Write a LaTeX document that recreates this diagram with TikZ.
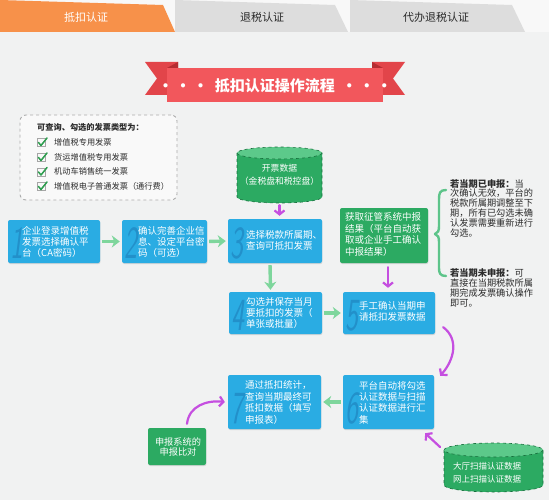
\documentclass[tikz,border=0pt]{standalone}
\usepackage{fontspec}
\setmainfont{Noto Sans CJK SC}
\usetikzlibrary{arrows.meta,calc,shadows}
\definecolor{bg}{HTML}{F1F2F2}
\definecolor{taborange}{HTML}{F7914A}
\definecolor{tabgrey}{HTML}{DDDDDD}
\definecolor{tabtop}{HTML}{F8F8F8}
\definecolor{redmain}{HTML}{F2575C}
\definecolor{redtail}{HTML}{E2454A}
\definecolor{redfold}{HTML}{B52C31}
\definecolor{boxblue}{HTML}{2AACE3}
\definecolor{numblue}{HTML}{2290CA}
\definecolor{boxgreen}{HTML}{2CAA62}
\definecolor{cyltop}{HTML}{5CC98A}
\definecolor{cylline}{HTML}{17703D}
\definecolor{arrowgreen}{HTML}{7ED69C}
\definecolor{purp}{HTML}{C54FE0}
\definecolor{bracegreen}{HTML}{5DC48A}
\definecolor{txtdark}{HTML}{2B2B2B}
\definecolor{checkgreen}{HTML}{2E9E4F}
\begin{document}
\begin{tikzpicture}[x=1pt,y=-1pt,
  bluebox/.style={fill=boxblue, rounded corners=2pt, inner sep=0pt,
    drop shadow={shadow xshift=0.4pt, shadow yshift=-1pt, opacity=0.25}},
  greenbox/.style={fill=boxgreen, rounded corners=2pt, inner sep=0pt,
    drop shadow={shadow xshift=0.4pt, shadow yshift=-1pt, opacity=0.25}},
  boxtxt/.style={text=white, font=\fontsize{9.5}{11.4}\selectfont, align=left, inner sep=0pt, anchor=west},
  ctrtxt/.style={text=white, font=\fontsize{9}{10.5}\selectfont, align=center, inner sep=0pt},
  numtxt/.style={text=numblue, font=\fontsize{46}{46}\selectfont\sffamily\itshape, inner sep=0pt, anchor=base west},
  garrow/.style={draw=arrowgreen, line width=3.4pt, -{Stealth[length=8pt,width=12pt,inset=2.5pt]}, shorten <=2pt, shorten >=2pt},
  parrow/.style={draw=purp, line width=2.2pt, -{Straight Barb[length=4pt,width=10pt]}, line cap=round},
  legtxt/.style={text=txtdark, font=\fontsize{8.2}{8.2}\selectfont, anchor=west, inner sep=0pt},
  notetxt/.style={text=txtdark, font=\fontsize{9.2}{9.8}\selectfont, align=left, anchor=west, inner sep=0pt},
  cylshape/.style={fill=boxgreen, draw=cylline, dashed, line width=0.6pt},
  tabtxt/.style={font=\fontsize{11}{11}\selectfont, inner sep=0pt}
]
\useasboundingbox[fill=bg] (0,0) rectangle (549,500);

% ---- tabs
\fill[tabtop] (0,0) rectangle (549,32);
\fill[taborange] (0,0) -- (163,5) -- (175,32) -- (0,32) -- cycle;
\fill[tabgrey] (175,0) -- (335,5) -- (348,32) -- (175,32) -- cycle;
\fill[tabgrey] (350,0) -- (512,5) -- (525,32) -- (350,32) -- cycle;
\node[tabtxt, text=white] (tab1) at (86,17) {抵扣认证};
\node[tabtxt, text=txtdark] (tab2) at (262,17) {退税认证};
\node[tabtxt, text=txtdark] (tab3) at (436,17) {代办退税认证};

% ---- banner
\fill[redtail] (145,62) -- (178,62) -- (178,95) -- (145,95) -- (157,78.5) -- cycle;
\fill[redtail] (405,62) -- (372,62) -- (372,95) -- (405,95) -- (393,78.5) -- cycle;
\fill[redfold] (167,68) -- (178,62) -- (178,68) -- cycle;
\fill[redfold] (383,68) -- (372,62) -- (372,68) -- cycle;
\fill[redmain] (167,68) rectangle (383,102);
\node[text=white, font=\fontsize{15}{15}\selectfont\bfseries, inner sep=0pt] (title) at (275,85.5) {•\,•\,•\ \ 抵扣认证操作流程\ \ •\,•\,•};

% ---- legend
\node[draw=gray!65, dashed, line width=0.9pt, rounded corners=6pt, fill=white!55!bg,
      minimum width=157pt, minimum height=85pt, inner sep=0pt] (legend) at (98.5,157.5) {};
\node[legtxt, font=\fontsize{8.2}{8.2}\selectfont\bfseries] (legtitle) at (37,127) {可查询、勾选的发票类型为：};
\foreach \yy/\tt [count=\i] in {142/增值税专用发票, 157/货运增值税专用发票, 171.5/机动车销售统一发票, 186/增值税电子普通发票（通行费）}{
  \draw[gray!70, line width=0.6pt] (37,\yy-3.5) rectangle (45,\yy+4.5);
  \draw[checkgreen, line width=1.5pt, line cap=round, line join=round] (38.5,\yy+0.5) -- (41,\yy+3.5) -- (47,\yy-4);
  \node[legtxt] (leg\i) at (54,\yy) {\tt};
}

% ---- blue and green boxes
\node[bluebox, minimum width=92pt, minimum height=43pt] (b1) at (54,241.5) {};
\node[bluebox, minimum width=85pt, minimum height=43pt] (b2) at (164.5,241.5) {};
\node[bluebox, minimum width=94pt, minimum height=44pt] (b3) at (275,241) {};
\node[greenbox, minimum width=88pt, minimum height=55pt] (g1) at (384,235.5) {};
\node[bluebox, minimum width=93pt, minimum height=42pt] (b4) at (275.5,313) {};
\node[bluebox, minimum width=92pt, minimum height=42pt] (b5) at (389,313) {};
\node[bluebox, minimum width=91pt, minimum height=54pt] (b6) at (388.5,402) {};
\node[bluebox, minimum width=93pt, minimum height=54pt] (b7) at (274.5,402) {};
\node[greenbox, minimum width=58pt, minimum height=37pt] (g3) at (177,446.5) {};

% numbers
\node[numtxt] (n1) at ([shift={(2,-5)}]b1.south west) {\scalebox{0.6}[1]{1}};
\node[numtxt] (n2) at ([shift={(2,-5)}]b2.south west) {\scalebox{0.6}[1]{2}};
\node[numtxt] (n3) at ([shift={(2,-5)}]b3.south west) {\scalebox{0.6}[1]{3}};
\node[numtxt] (n4) at ([shift={(2,-4)}]b4.south west) {\scalebox{0.6}[1]{4}};
\node[numtxt] (n5) at ([shift={(2,-4)}]b5.south west) {\scalebox{0.6}[1]{5}};
\node[numtxt] (n6) at ([shift={(2,-6)}]b6.south west) {\scalebox{0.6}[1]{6}};
\node[numtxt] (n7) at ([shift={(2,-6)}]b7.south west) {\scalebox{0.6}[1]{7}};

% box texts
\node[boxtxt] (t1) at (22,242) {企业登录增值税\\发票选择确认平\\台（CA密码）};
\node[boxtxt] (t2) at (138,242) {确认完善企业信\\息、设定平台密\\码（可选）};
\node[boxtxt] (t3) at (246,240.5) {选择税款所属期、\\查询可抵扣发票};
\node[boxtxt] (tg1) at (345,234.5) {获取征管系统中报\\结果（平台自动获\\取或企业手工确认\\中报结果）};
\node[boxtxt] (t4) at (246,313) {勾选并保存当月\\要抵扣的发票（\\单张或批量）};
\node[boxtxt] (t5) at (359,311.5) {手工确认当期申\\请抵扣发票数据};
\node[boxtxt] (t6) at (359,402.5) {平台自动将勾选\\认证数据与扫描\\认证数据进行汇\\集};
\node[boxtxt] (t7) at (245,402.5) {通过抵扣统计，\\查询当期最终可\\抵扣数据（填写\\申报表）};
\node[ctrtxt, font=\fontsize{9.2}{10}\selectfont] (tg3) at (178,447) {申报系统的\\申报比对};

% ---- cylinders
\fill[boxgreen] (237,153) -- (237,197) arc[start angle=180, end angle=0, x radius=42.5, y radius=6] -- (322,153) -- cycle;
\draw[cylshape, fill=none] (237,153) -- (237,197) arc[start angle=180, end angle=0, x radius=42.5, y radius=6] -- (322,153);
\draw[cylshape, fill=cyltop] (279.5,153) ellipse[x radius=42.5, y radius=6];
\node[inner sep=0pt, minimum width=85pt, minimum height=56pt] (c1) at (279.5,175) {};
\node[ctrtxt, font=\fontsize{8.8}{13}\selectfont] (tc1) at (279.5,174.5) {开票数据\\（金税盘和税控盘）};

\fill[boxgreen] (444,450) -- (444,485) arc[start angle=180, end angle=0, x radius=49.5, y radius=7] -- (543,450) -- cycle;
\draw[cylshape, fill=none] (444,450) -- (444,485) arc[start angle=180, end angle=0, x radius=49.5, y radius=7] -- (543,450);
\draw[cylshape, fill=cyltop] (493.5,450) ellipse[x radius=49.5, y radius=7];
\node[inner sep=0pt, minimum width=99pt, minimum height=49pt] (c2) at (493.5,467.5) {};
\node[ctrtxt, font=\fontsize{8.5}{12.5}\selectfont] (tc2) at (487,473) {大厅扫描认证数据\\网上扫描认证数据};

% ---- brace and notes
\draw[bracegreen, line width=2.4pt, line cap=round, line join=round]
  (446,190) .. controls (440,190) and (439,193) .. (439,199) -- (439,226)
  .. controls (439,231) and (438,233) .. (435,234)
  .. controls (438,235) and (439,237) .. (439,242) -- (439,268)
  .. controls (439,273) and (440,276) .. (446,276);
\node[notetxt] (note1) at (450,208) {\textbf{若当期已申报：}当\\次确认无效，平台的\\税款所属期调整至下\\期，所有已勾选未确\\认发票需要重新进行\\勾选。};
\node[notetxt, font=\fontsize{9.2}{10.2}\selectfont] (note2) at (450,288) {\textbf{若当期未申报：}可\\直接在当期税款所属\\期完成发票确认操作\\即可。};

% ---- connectors
\draw[garrow] (b1.east) -- (b2.west);
\draw[garrow] (b2.east) -- (b3.west);
\draw[garrow] ([xshift=-5pt]b3.south) -- ([xshift=-5pt]b4.north);
\draw[garrow] (b4.east) -- (b5.west);
\draw[garrow] (b6.west) -- (b7.east);
\draw[parrow, shorten <=2pt, shorten >=3pt] (c1.south) -- (c1.south |- b3.north);
\draw[parrow, shorten <=4pt, shorten >=4pt] ([xshift=4pt]g1.south) -- ([xshift=4pt]g1.south |- b5.north);
\draw[parrow] ([shift={(8,-7)}]b5.south east) .. controls +(16,12) and +(14,-16) .. ([shift={(6,1)}]b6.north east);
\coordinate (cylarrow) at (440,447);
\draw[parrow] (cylarrow) -- ([shift={(-9,4)}]b6.south east);
\draw[parrow] ([shift={(10,-4)}]g3.north) .. controls +(2,-18) and +(-18,-2) .. ([xshift=-3pt]b7.west);
\end{tikzpicture}
\end{document}
